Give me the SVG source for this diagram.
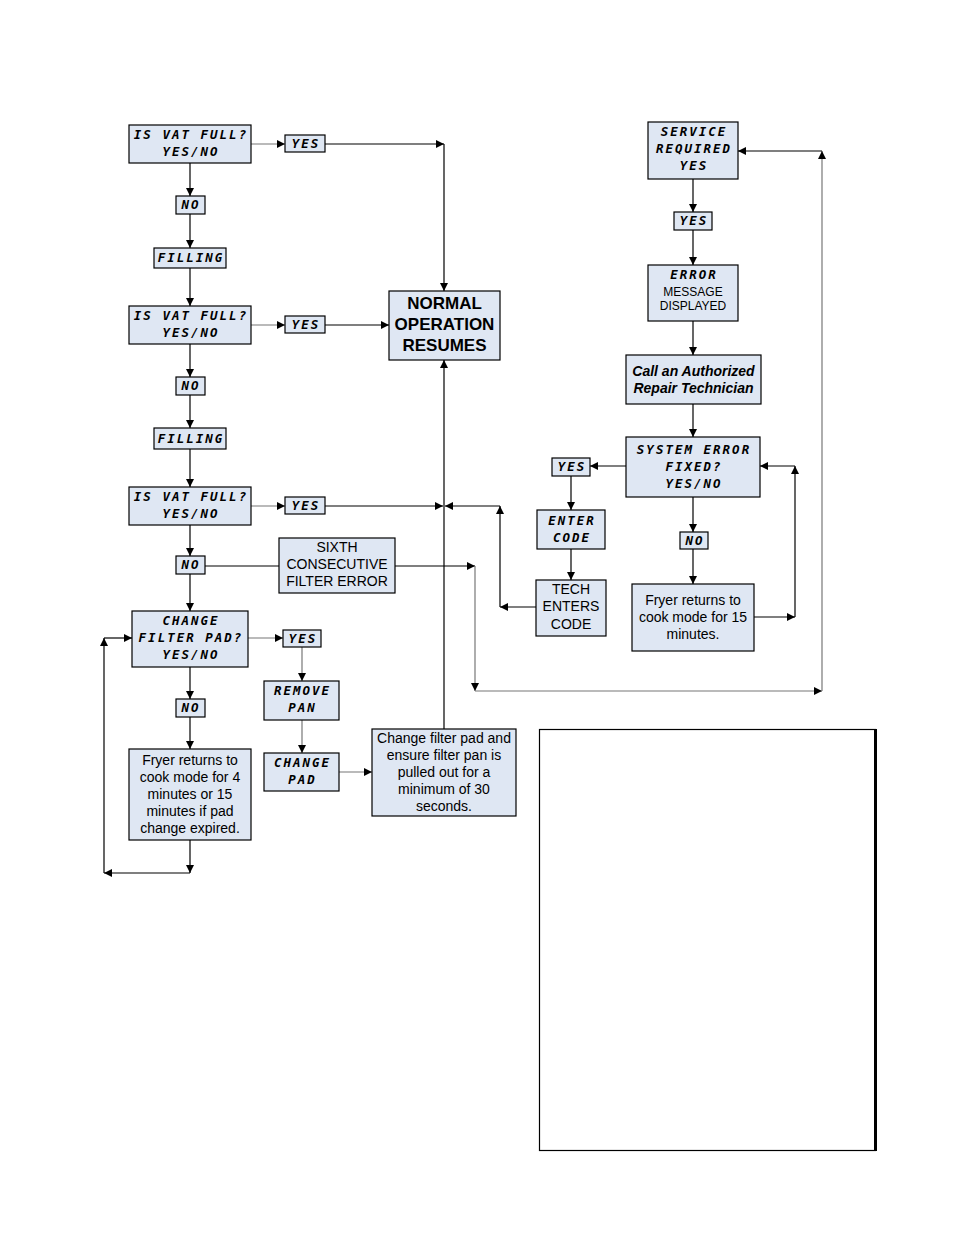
<svg xmlns="http://www.w3.org/2000/svg" width="954" height="1235" viewBox="0 0 954 1235">
<defs>
<marker id="a" markerUnits="userSpaceOnUse" markerWidth="8" markerHeight="8" refX="8" refY="4" orient="auto"><path d="M0,0 L8,4 L0,8 z" fill="#000"/></marker>
<style>
.b{fill:#dfe7f3;stroke:#000;stroke-width:1.2}
.s{font-family:"DejaVu Sans Mono",monospace;font-style:italic;font-weight:bold;font-size:12.5px;letter-spacing:2px;text-anchor:middle;fill:#000}
.t{font-family:"Liberation Sans",Arial,sans-serif;font-size:14px;text-anchor:middle;fill:#000}
.c line,.c path{stroke:#000;stroke-width:1.2;fill:none}
.c .g{stroke:#777}
.c .m{marker-end:url(#a)}
</style>
</defs>
<rect width="954" height="1235" fill="#fff"/>
<g class="c" id="connectors">
<line class="m" x1="190" y1="163" x2="190" y2="196"/>
<line class="m" x1="190" y1="214" x2="190" y2="248"/>
<line class="m" x1="190" y1="268" x2="190" y2="306"/>
<line class="m" x1="190" y1="344" x2="190" y2="377"/>
<line class="m" x1="190" y1="395" x2="190" y2="428"/>
<line class="m" x1="190" y1="449" x2="190" y2="487"/>
<line class="m" x1="190" y1="525" x2="190" y2="556"/>
<line class="m" x1="190" y1="574" x2="190" y2="611"/>
<line class="m" x1="190" y1="667" x2="190" y2="699"/>
<line class="m" x1="190" y1="717" x2="190" y2="749"/>
<line class="m" x1="190" y1="840" x2="190" y2="873"/>
<line class="m" x1="190" y1="873" x2="104" y2="873"/>
<line class="m" x1="104" y1="873" x2="104" y2="638"/>
<line class="m" x1="104" y1="638" x2="132" y2="638"/>
<line class="m g" x1="251" y1="144" x2="285" y2="144"/>
<line class="m" x1="325" y1="144" x2="444" y2="144"/>
<line class="m" x1="444" y1="144" x2="444" y2="291"/>
<line class="m g" x1="251" y1="325" x2="285" y2="325"/>
<line class="m" x1="325" y1="325" x2="389" y2="325"/>
<line class="m g" x1="251" y1="506" x2="285" y2="506"/>
<line class="m" x1="325" y1="506" x2="443" y2="506"/>
<line class="m" x1="444" y1="729" x2="444" y2="360"/>
<line class="m" x1="500" y1="506" x2="445" y2="506"/>
<line class="m" x1="500" y1="607" x2="500" y2="506"/>
<line class="m" x1="536" y1="607" x2="500" y2="607"/>
<line x1="205" y1="566" x2="279" y2="566"/>
<line class="m" x1="395" y1="566" x2="475" y2="566"/>
<line class="m g" x1="475" y1="566" x2="475" y2="691"/>
<line class="m g" x1="475" y1="691" x2="822" y2="691"/>
<line class="m g" x1="822" y1="691" x2="822" y2="151"/>
<line class="m" x1="822" y1="151" x2="738" y2="151"/>
<line class="m g" x1="248" y1="638" x2="283" y2="638"/>
<line class="m g" x1="302" y1="647" x2="302" y2="681"/>
<line class="m g" x1="302" y1="720" x2="302" y2="753"/>
<line class="m g" x1="339" y1="772" x2="372" y2="772"/>
<line class="m" x1="693" y1="179" x2="693" y2="212"/>
<line class="m" x1="693" y1="230" x2="693" y2="265"/>
<line class="m" x1="693" y1="321" x2="693" y2="355"/>
<line class="m" x1="693" y1="404" x2="693" y2="437"/>
<line class="m" x1="626" y1="466" x2="590" y2="466"/>
<line class="m" x1="571" y1="476" x2="571" y2="510"/>
<line class="m" x1="571" y1="549" x2="571" y2="580"/>
<line class="m" x1="693" y1="497" x2="693" y2="532"/>
<line class="m" x1="693" y1="549" x2="693" y2="584"/>
<line class="m" x1="754" y1="617" x2="795" y2="617"/>
<line class="m" x1="795" y1="617" x2="795" y2="466"/>
<line class="m" x1="795" y1="466" x2="760" y2="466"/>
</g>
<g id="vat1"><rect class="b" x="129" y="125" width="122" height="38"/><text class="s" x="191" y="139">IS VAT FULL?</text><text class="s" x="191" y="156">YES/NO</text></g>
<g id="yes1"><rect class="b" x="285" y="135" width="40" height="17"/><text class="s" x="306" y="148">YES</text></g>
<g id="no1"><rect class="b" x="176" y="196" width="29" height="18"/><text class="s" x="191" y="209">NO</text></g>
<g id="fill1"><rect class="b" x="154" y="248" width="72" height="20"/><text class="s" x="191" y="262">FILLING</text></g>
<g id="vat2"><rect class="b" x="129" y="306" width="122" height="38"/><text class="s" x="191" y="320">IS VAT FULL?</text><text class="s" x="191" y="337">YES/NO</text></g>
<g id="yes2"><rect class="b" x="285" y="316" width="40" height="17"/><text class="s" x="306" y="329">YES</text></g>
<g id="no2"><rect class="b" x="176" y="377" width="29" height="18"/><text class="s" x="191" y="390">NO</text></g>
<g id="fill2"><rect class="b" x="154" y="428" width="72" height="21"/><text class="s" x="191" y="443">FILLING</text></g>
<g id="vat3"><rect class="b" x="129" y="487" width="122" height="38"/><text class="s" x="191" y="501">IS VAT FULL?</text><text class="s" x="191" y="518">YES/NO</text></g>
<g id="yes3"><rect class="b" x="285" y="497" width="40" height="17"/><text class="s" x="306" y="510">YES</text></g>
<g id="no3"><rect class="b" x="176" y="556" width="29" height="18"/><text class="s" x="191" y="569">NO</text></g>
<g id="normal"><rect class="b" x="389" y="291" width="111" height="69"/><text class="t" x="444.5" y="309" style="font-size:17px;font-weight:bold">NORMAL</text><text class="t" x="444.5" y="330" style="font-size:17px;font-weight:bold">OPERATION</text><text class="t" x="444.5" y="351" style="font-size:17px;font-weight:bold">RESUMES</text></g>
<g id="sixth"><rect class="b" x="279" y="538" width="116" height="55"/><text class="t" x="337" y="552">SIXTH</text><text class="t" x="337" y="569">CONSECUTIVE</text><text class="t" x="337" y="586">FILTER ERROR</text></g>
<g id="chpad"><rect class="b" x="132" y="611" width="116" height="56"/><text class="s" x="191" y="625">CHANGE</text><text class="s" x="191" y="642">FILTER PAD?</text><text class="s" x="191" y="659">YES/NO</text></g>
<g id="yes4"><rect class="b" x="283" y="630" width="38" height="17"/><text class="s" x="303" y="643">YES</text></g>
<g id="no4"><rect class="b" x="176" y="699" width="29" height="18"/><text class="s" x="191" y="712">NO</text></g>
<g id="remove"><rect class="b" x="264" y="681" width="75" height="39"/><text class="s" x="302.5" y="695">REMOVE</text><text class="s" x="302.5" y="712">PAN</text></g>
<g id="change"><rect class="b" x="264" y="753" width="75" height="38"/><text class="s" x="302.5" y="767">CHANGE</text><text class="s" x="302.5" y="784">PAD</text></g>
<g id="fryer1"><rect class="b" x="129" y="749" width="122" height="91"/><text class="t" x="190" y="765">Fryer returns to</text><text class="t" x="190" y="782">cook mode for 4</text><text class="t" x="190" y="799">minutes or 15</text><text class="t" x="190" y="816">minutes if pad</text><text class="t" x="190" y="833">change expired.</text></g>
<g id="chfilter"><rect class="b" x="372" y="729" width="144" height="87"/><text class="t" x="444" y="743">Change filter pad and</text><text class="t" x="444" y="760">ensure filter pan is</text><text class="t" x="444" y="777">pulled out for a</text><text class="t" x="444" y="794">minimum of 30</text><text class="t" x="444" y="811">seconds.</text></g>
<g id="service"><rect class="b" x="648" y="122" width="90" height="57"/><text class="s" x="694" y="136">SERVICE</text><text class="s" x="694" y="153">REQUIRED</text><text class="s" x="694" y="170">YES</text></g>
<g id="yes5"><rect class="b" x="674" y="212" width="38" height="18"/><text class="s" x="694" y="225">YES</text></g>
<g id="error"><rect class="b" x="648" y="265" width="90" height="56"/><text class="s" x="694" y="279">ERROR</text><text class="t" x="693" y="296" style="font-size:12px">MESSAGE</text><text class="t" x="693" y="310" style="font-size:12px">DISPLAYED</text></g>
<g id="call"><rect class="b" x="626" y="355" width="135" height="49"/><text class="t" x="693.5" y="376" style="font-weight:bold;font-style:italic">Call an Authorized</text><text class="t" x="693.5" y="393" style="font-weight:bold;font-style:italic">Repair Technician</text></g>
<g id="syserr"><rect class="b" x="626" y="437" width="134" height="60"/><text class="s" x="694" y="454">SYSTEM ERROR</text><text class="s" x="694" y="471">FIXED?</text><text class="s" x="694" y="488">YES/NO</text></g>
<g id="yes6"><rect class="b" x="552" y="458" width="38" height="18"/><text class="s" x="572" y="471">YES</text></g>
<g id="enter"><rect class="b" x="537" y="510" width="68" height="39"/><text class="s" x="572" y="525">ENTER</text><text class="s" x="572" y="542">CODE</text></g>
<g id="tech"><rect class="b" x="536" y="580" width="70" height="56"/><text class="t" x="571" y="594">TECH</text><text class="t" x="571" y="611">ENTERS</text><text class="t" x="571" y="629">CODE</text></g>
<g id="no5"><rect class="b" x="680" y="532" width="28" height="17"/><text class="s" x="695" y="545">NO</text></g>
<g id="fryer2"><rect class="b" x="632" y="584" width="122" height="67"/><text class="t" x="693" y="605">Fryer returns to</text><text class="t" x="693" y="622">cook mode for 15</text><text class="t" x="693" y="639">minutes.</text></g>
<g id="blank"><rect x="539.5" y="729.5" width="336" height="421" fill="#fff" stroke="#000" stroke-width="1.2"/><line x1="875.5" y1="729" x2="875.5" y2="1151" stroke="#000" stroke-width="3"/></g>
</svg>
